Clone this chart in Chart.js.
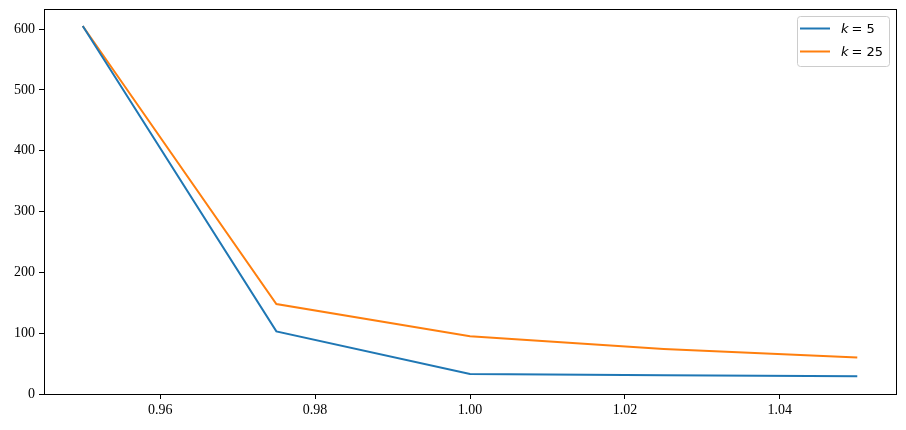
<!DOCTYPE html>
<html>
<head>
<meta charset="utf-8">
<script src="https://cdn.jsdelivr.net/npm/chart.js@4/dist/chart.umd.min.js"></script>
<style>
  html, body { margin: 0; padding: 0; background: #fff; }
  #wrap { width: 906px; height: 430px; }
</style>
</head>
<body>
<div id="wrap"><canvas id="c" width="906" height="430"></canvas></div>
<script>
// data
const xValues = [0.95, 0.975, 1.0, 1.025, 1.05];
const k5 = [605, 103, 33, 31, 29];
const k25 = [605, 148, 95, 74, 60];
const xTicks = [0.96, 0.98, 1.00, 1.02, 1.04];
const yTicks = [0, 100, 200, 300, 400, 500, 600];
const seriesLabels = ["5", "25"];
const colors = ["#1f77b4", "#ff7f0e"];

const tickFont = { family: "'Liberation Serif', 'DejaVu Serif', serif", size: 14 };

// frame + legend drawn inside the plot area, matplotlib style
const framePlugin = {
  id: 'frame',
  afterDraw(chart) {
    const { ctx, chartArea: a } = chart;
    ctx.save();
    ctx.strokeStyle = '#000';
    ctx.lineWidth = 1;
    ctx.strokeRect(Math.round(a.left) + 0.5, Math.round(a.top) + 0.5,
      Math.round(a.right - a.left), Math.round(a.bottom - a.top));

    // legend box
    const bx = 797, by = 16, bw = 92, bh = 50;
    ctx.fillStyle = 'rgba(255,255,255,0.8)';
    ctx.strokeStyle = '#cccccc';
    ctx.beginPath();
    ctx.roundRect(bx + 0.5, by + 0.5, bw, bh, 3);
    ctx.fill();
    ctx.stroke();

    seriesLabels.forEach((lab, i) => {
      const y = by + 12.5 + i * 23;
      ctx.strokeStyle = colors[i];
      ctx.lineWidth = 2;
      ctx.beginPath();
      ctx.moveTo(bx + 3, y);
      ctx.lineTo(bx + 33, y);
      ctx.stroke();
      ctx.fillStyle = '#000';
      ctx.textBaseline = 'middle';
      ctx.font = "italic 13px 'DejaVu Sans', sans-serif";
      let tx = bx + 44;
      ctx.fillText('k', tx, y + 1);
      tx += ctx.measureText('k').width + 3;
      ctx.font = "13px 'DejaVu Sans', sans-serif";
      ctx.fillText('= ' + lab, tx, y + 1);
    });
    ctx.restore();
  }
};

new Chart(document.getElementById('c'), {
  type: 'line',
  data: {
    datasets: [
      { label: 'k = 5', data: xValues.map((x, i) => ({ x: x, y: k5[i] })),
        borderColor: colors[0], backgroundColor: colors[0], borderWidth: 2, pointRadius: 0, tension: 0 },
      { label: 'k = 25', data: xValues.map((x, i) => ({ x: x, y: k25[i] })),
        borderColor: colors[1], backgroundColor: colors[1], borderWidth: 2, pointRadius: 0, tension: 0 }
    ]
  },
  options: {
    responsive: false,
    animation: false,
    layout: { padding: { left: 0, right: 10, top: 9, bottom: 0 } },
    plugins: { legend: { display: false }, tooltip: { enabled: false } },
    scales: {
      x: {
        type: 'linear',
        min: 0.945,
        max: 1.055,
        afterBuildTicks: (s) => { s.ticks = xTicks.map(v => ({ value: v })); },
        afterFit: (s) => { s.height = 36; s.paddingLeft = 0; s.paddingRight = 0; },
        grid: { drawOnChartArea: false, color: '#000', tickLength: 5, tickWidth: 1 },
        border: { display: false },
        ticks: {
          color: '#000', font: tickFont, padding: 3, maxRotation: 0,
          callback: (v) => Number(v).toFixed(2)
        }
      },
      y: {
        min: 0,
        max: 633,
        afterBuildTicks: (s) => { s.ticks = yTicks.map(v => ({ value: v })); },
        afterFit: (s) => { s.width = 44; s.paddingTop = 0; s.paddingBottom = 0; },
        grid: { drawOnChartArea: false, color: '#000', tickLength: 5, tickWidth: 1 },
        border: { display: false },
        ticks: { color: '#000', font: tickFont, padding: 4 }
      }
    }
  },
  plugins: [framePlugin]
});
</script>
</body>
</html>
